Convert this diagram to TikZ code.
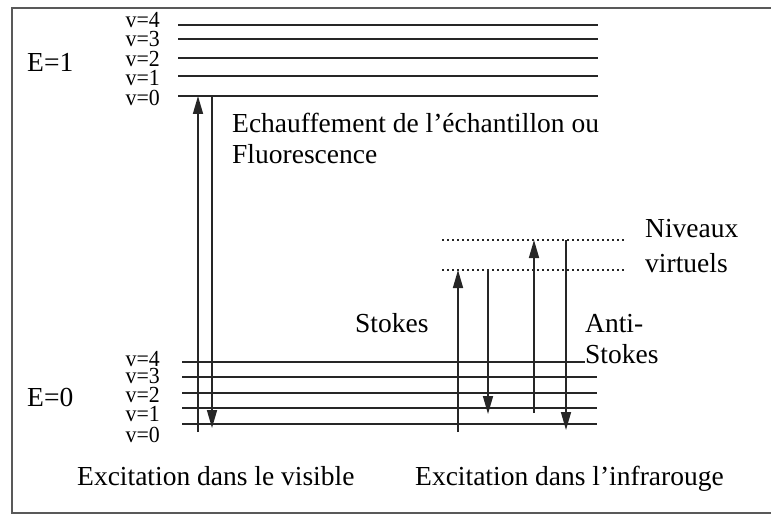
\documentclass[tikz,border=0pt]{standalone}
\usepackage{fontspec}
\setmainfont{Liberation Serif}
\usetikzlibrary{arrows.meta}
\newcommand{\vtxt}[1]{\scalebox{0.95}[1]{v=#1}}
\begin{document}
\begin{tikzpicture}[x=1pt,y=-1pt,
  txt/.style={anchor=base west,inner sep=0pt,font=\fontsize{27.5}{32}\selectfont},
  vlab/.style={anchor=base east,inner sep=0pt,font=\fontsize{23}{23}\selectfont},
  level/.style={line width=1.6pt,black!85},
  virt/.style={line width=1.7pt,dash pattern=on 1.7pt off 3.3pt,black!85},
  trans/.style={line width=1.6pt,black!85,-{Triangle[length=18pt,width=10pt]}},
  frame/.style={line width=2pt,black!65}]
\useasboundingbox (0,0) rectangle (771,516);
\draw[frame] (790,8) -- (12,8) -- (12,513) -- (790,513);
% upper electronic state E=1
\foreach \n/\y/\w in {4/25/1.6pt,3/39/2.6pt,2/58/1.6pt,1/76/1.6pt,0/96/1.6pt}{
  \coordinate (uL\n) at (178,\y);
  \coordinate (uR\n) at (598,\y);
  \draw[level,line width=\w] (uL\n) -- (uR\n);
}
\foreach \n/\y in {4/28,3/47,2/67,1/86,0/106}{
  \node[vlab] (uv\n) at (160,\y) {\vtxt{\n}};
}
\node[txt] (E1) at (27,72) {E=1};
% lower electronic state E=0
\foreach \n/\y/\xr in {4/362/585,3/377/597,2/393/597,1/408/597,0/424/597}{
  \coordinate (lL\n) at (182,\y);
  \coordinate (lR\n) at (\xr,\y);
  \draw[level] (lL\n) -- (lR\n);
}
\foreach \n/\y in {4/366,3/383,2/402,1/421,0/442}{
  \node[vlab] (lv\n) at (160,\y) {\vtxt{\n}};
}
\node[txt] (E0) at (27,406) {E=0};
% virtual levels
\coordinate (vaL) at (442,240); \coordinate (vaR) at (625,240);
\coordinate (vbL) at (442,270); \coordinate (vbR) at (625,270);
\draw[virt] (vaL) -- (vaR);
\draw[virt] (vbL) -- (vbR);
% visible excitation arrows
\coordinate (p1) at (198,432); \coordinate (q1) at (198,96);
\coordinate (p2) at (212,96);  \coordinate (q2) at (212,428);
\draw[trans] (p1) -- (q1);
\draw[trans] (p2) -- (q2);
% infrared (Raman) arrows
\coordinate (a1s) at (458,432); \coordinate (a1e) at (458,270);
\coordinate (a2s) at (488,270); \coordinate (a2e) at (488,414);
\coordinate (a3s) at (534,413); \coordinate (a3e) at (534,240);
\coordinate (a4s) at (566,240); \coordinate (a4e) at (566,430);
\draw[trans] (a1s) -- (a1e);
\draw[trans] (a2s) -- (a2e);
\draw[trans] (a3s) -- (a3e);
\draw[trans] (a4s) -- (a4e);
% labels
\node[txt] (ech) at (232,132) {Echauffement de l’échantillon ou};
\node[txt] (flu) at (232,164) {Fluorescence};
\node[txt] (sto) at (355,332) {Stokes};
\node[txt] (ant) at (585,332) {Anti-};
\node[txt] (ast) at (585,363) {Stokes};
\node[txt] (niv) at (645,237) {Niveaux};
\node[txt] (vir) at (645,272) {virtuels};
\node[txt] (exv) at (77,485) {Excitation dans le visible};
\node[txt] (exi) at (415,485) {Excitation dans l’infrarouge};
\end{tikzpicture}
\end{document}
